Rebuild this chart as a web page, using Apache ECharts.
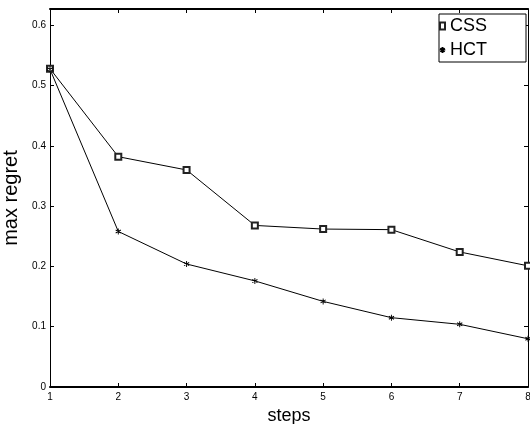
<!DOCTYPE html>
<html>
<head>
<meta charset="utf-8">
<script src="https://cdn.jsdelivr.net/npm/echarts@6/dist/echarts.min.js"></script>
<style>
html,body{margin:0;padding:0;background:#fff;}
#c{width:530px;height:424px;}
</style>
</head>
<body>
<div id="c"></div>
<script>
var steps = [1, 2, 3, 4, 5, 6, 7, 8];
var cssValues = [0.528, 0.382, 0.360, 0.268, 0.262, 0.261, 0.224, 0.201];
var hctValues = [0.527, 0.258, 0.204, 0.176, 0.142, 0.115, 0.104, 0.080];
var seriesNames = ['CSS', 'HCT'];
var xTitle = 'steps';
var yTitle = 'max regret';

var FONT = 'Liberation Sans, Arial, Helvetica, sans-serif';
var asterisk = 'path://M0,-3L0,3M-2.6,-1.5L2.6,1.5M-2.6,1.5L2.6,-1.5';

function pairs(vals) {
  return steps.map(function (s, i) { return [s, vals[i]]; });
}

var chart = echarts.init(document.getElementById('c'), null, {renderer: 'canvas'});
chart.setOption({
  animation: false,
  backgroundColor: '#fff',
  grid: {left: 50, right: 2, top: 9, bottom: 37, containLabel: false, outerBoundsMode: 'none'},
  legend: {
    orient: 'vertical',
    left: 439,
    top: 14,
    itemWidth: 5,
    itemHeight: 7,
    itemGap: 6,
    padding: [3, 39, 3, 0],
    borderColor: '#000',
    borderWidth: 1,
    backgroundColor: '#fff',
    textStyle: {fontFamily: FONT, fontSize: 18, color: '#000'},
    data: [{name: seriesNames[0], icon: 'emptyRect'}, {name: seriesNames[1], icon: asterisk}]
  },
  xAxis: [{
    type: 'value', min: 1, max: 8, interval: 1,
    name: xTitle, nameLocation: 'middle', nameGap: 16,
    nameTextStyle: {fontFamily: FONT, fontSize: 18, color: '#000'},
    axisLine: {show: true, onZero: false, lineStyle: {color: '#000', width: 2}},
    axisTick: {show: true, inside: true, length: 4, lineStyle: {color: '#000', width: 1}},
    axisLabel: {fontFamily: FONT, fontSize: 10, color: '#000', margin: 5},
    splitLine: {show: false}
  }, {
    type: 'value', min: 1, max: 8, interval: 1, position: 'top',
    axisLine: {show: true, onZero: false, lineStyle: {color: '#000', width: 2}},
    axisTick: {show: true, inside: true, length: 4, lineStyle: {color: '#000', width: 1}},
    axisLabel: {show: false},
    splitLine: {show: false}
  }],
  yAxis: [{
    type: 'value', min: 0, max: 0.627, interval: 0.1,
    name: yTitle, nameLocation: 'middle', nameGap: 24,
    nameTextStyle: {fontFamily: FONT, fontSize: 20, color: '#000'},
    axisLine: {show: true, onZero: false, lineStyle: {color: '#000', width: 1}},
    axisTick: {show: true, inside: true, length: 4, lineStyle: {color: '#000', width: 1}},
    axisLabel: {fontFamily: FONT, fontSize: 10, color: '#000', margin: 4, showMaxLabel: false},
    splitLine: {show: false}
  }, {
    type: 'value', min: 0, max: 0.627, interval: 0.1, position: 'right',
    axisLine: {show: true, onZero: false, lineStyle: {color: '#000', width: 1}},
    axisTick: {show: true, inside: true, length: 4, lineStyle: {color: '#000', width: 1}},
    axisLabel: {show: false},
    splitLine: {show: false}
  }],
  series: [{
    name: seriesNames[0], type: 'line', data: pairs(cssValues),
    symbol: 'emptyRect', symbolSize: 6,
    lineStyle: {color: '#000', width: 1},
    itemStyle: {color: '#222', borderColor: '#222', borderWidth: 0.6},
    clip: false
  }, {
    name: seriesNames[1], type: 'line', data: pairs(hctValues),
    symbol: asterisk, symbolSize: [5.2, 6],
    lineStyle: {color: '#000', width: 1},
    itemStyle: {color: '#000', borderColor: '#000', borderWidth: 1},
    clip: false
  }]
});
</script>
</body>
</html>
